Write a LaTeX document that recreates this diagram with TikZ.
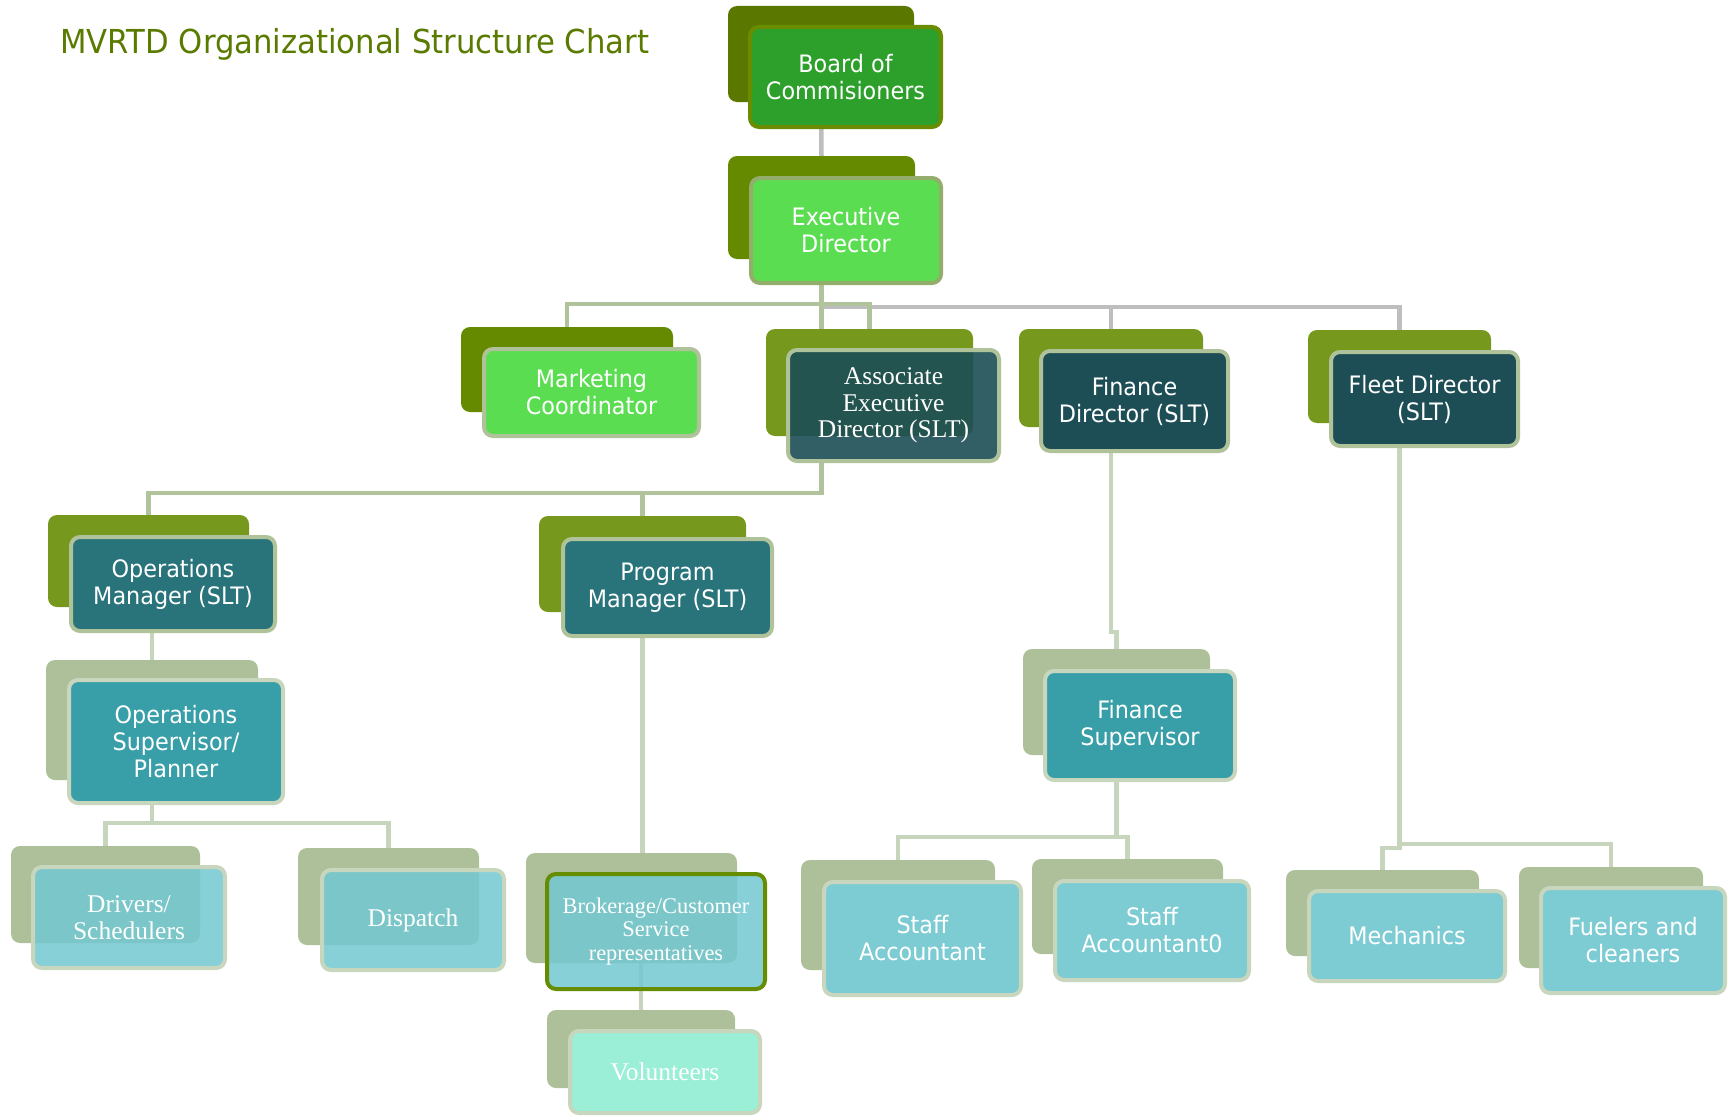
\documentclass[tikz,border=0pt]{standalone}
\usepackage{fontspec}
\setmainfont{DejaVu Sans}[FakeStretch=0.93]
\newfontfamily\seriff{Liberation Serif}
\usetikzlibrary{backgrounds}
\definecolor{cOliveDark}{HTML}{5A7800}
\definecolor{cOlive}{HTML}{658A00}
\definecolor{cOliveL}{HTML}{76981C}
\definecolor{cSageB}{HTML}{ADC09A}
\definecolor{cGreenD}{HTML}{2CA02A}
\definecolor{cGreenL}{HTML}{5BDD52}
\definecolor{cTealA}{HTML}{1C4D55}
\definecolor{cTealD}{HTML}{1D4E55}
\definecolor{cTealM}{HTML}{29737B}
\definecolor{cTealS}{HTML}{389EA8}
\definecolor{cTealL}{HTML}{7DCBD3}
\definecolor{cTealT}{HTML}{73C8D1}
\definecolor{cMint}{HTML}{9AEFD6}
\definecolor{cBorderOl}{HTML}{6A8C00}
\definecolor{cBorderEx}{HTML}{93AD6B}
\definecolor{cBorderSg}{HTML}{AFC29A}
\definecolor{cBorderLt}{HTML}{C9D6BE}
\definecolor{cBrokBorder}{HTML}{668C00}
\definecolor{cLineSg}{HTML}{B1C39B}
\definecolor{cLineLt}{HTML}{C8D5BD}
\definecolor{cLineGr}{HTML}{BEBEBE}
\definecolor{cTitle}{HTML}{5A7A00}
\newcommand\sansbox{\fontsize{24}{27}\selectfont}
\newcommand\serifbox{\seriff\fontsize{25.5}{26.5}\selectfont}
\newcommand\serifsmall{\seriff\fontsize{22.4}{23.2}\selectfont}
\newcommand\backbox[6]{\node[#2, minimum width={(#5-#3)*1pt}, minimum height={(#6-#4)*1pt}] (#1) at ({(#3+#5)/2},{(#4+#6)/2}) {};}
\newcommand\frontbox[7]{\node[#2, minimum width={(#5-#3-4)*1pt}, minimum height={(#6-#4-4)*1pt}] (#1) at ({(#3+#5)/2},{(#4+#6)/2}) {#7};}
\tikzset{
  bk/.style={fill=#1, rounded corners=9pt, inner sep=0pt, outer sep=0pt},
  fr/.style={draw=#1, line width=4pt, rounded corners=9pt, inner sep=0pt, outer sep=0pt, text=white, align=center, font=\sansbox},
  cs/.style={draw=cLineSg, line width=4.5pt},
  cl/.style={draw=cLineLt, line width=4.5pt},
  cg/.style={draw=cLineGr, line width=4.5pt},
}
\begin{document}
\begin{tikzpicture}[x=1pt,y=-1pt]
\useasboundingbox (0,0) rectangle (1729,1116);
\node[anchor=base west, text=cTitle, font=\fontsize{33}{36}\selectfont, inner sep=0pt] (title) at (60,54) {MVRTD Organizational Structure Chart};

\backbox{boardB}{bk=cOliveDark}{728}{6}{914}{102}
\frontbox{board}{fr=cBorderOl, fill=cGreenD}{748}{25}{943}{129}{Board of\\Commisioners}
\backbox{execB}{bk=cOlive}{728}{156}{915}{259}
\frontbox{exec}{fr=cBorderEx, fill=cGreenL}{749}{176}{943}{285}{Executive\\Director}
\backbox{mktB}{bk=cOlive}{461}{327}{673}{412}
\frontbox{mkt}{fr=cBorderSg, fill=cGreenL}{482}{347}{701}{438}{Marketing\\Coordinator}
\backbox{aedB}{bk=cOliveL}{766}{329}{973}{436}
\frontbox{aed}{fr=cBorderSg, fill=cTealA, fill opacity=0.9, text opacity=1, font=\serifbox}{786}{348}{1001}{463}{Associate\\Executive\\Director (SLT)}
\backbox{finB}{bk=cOliveL}{1019}{329}{1203}{427}
\frontbox{fin}{fr=cBorderSg, fill=cTealD}{1039}{349}{1230}{453}{Finance\\Director (SLT)}
\backbox{fleetB}{bk=cOliveL}{1308}{330}{1491}{423}
\frontbox{fleet}{fr=cBorderSg, fill=cTealD}{1329}{350}{1520}{448}{Fleet Director\\(SLT)}
\backbox{opsmB}{bk=cOliveL}{48}{515}{249}{607}
\frontbox{opsm}{fr=cBorderSg, fill=cTealM}{69}{535}{277}{633}{Operations\\Manager (SLT)}
\backbox{progB}{bk=cOliveL}{539}{516}{746}{612}
\frontbox{prog}{fr=cBorderSg, fill=cTealM}{561}{537}{774}{638}{Program\\Manager (SLT)}
\backbox{opssB}{bk=cSageB}{46}{660}{258}{780}
\frontbox{opss}{fr=cBorderLt, fill=cTealS}{67}{678}{285}{805}{Operations\\Supervisor/\\Planner}
\backbox{finsupB}{bk=cSageB}{1023}{649}{1210}{755}
\frontbox{finsup}{fr=cBorderLt, fill=cTealS}{1043}{669}{1237}{782}{Finance\\Supervisor}
\backbox{drvB}{bk=cSageB}{11}{846}{200}{943}
\frontbox{drv}{fr=cBorderLt, fill=cTealT, fill opacity=0.85, text opacity=1, font=\serifbox}{31}{865}{227}{970}{Drivers/\\Schedulers}
\backbox{dispB}{bk=cSageB}{298}{848}{479}{945}
\frontbox{disp}{fr=cBorderLt, fill=cTealT, fill opacity=0.85, text opacity=1, font=\serifbox}{320}{868}{506}{972}{Dispatch}
\backbox{brokB}{bk=cSageB}{526}{853}{737}{963}
\frontbox{brok}{fr=cBrokBorder, fill=cTealT, fill opacity=0.85, text opacity=1, font=\serifsmall}{545}{872}{767}{991}{Brokerage/Customer\\Service\\representatives}
\backbox{volB}{bk=cSageB}{547}{1010}{735}{1088}
\frontbox{vol}{fr=cBorderLt, fill=cMint, font=\serifbox}{568}{1029}{762}{1115}{Volunteers}
\backbox{staffB}{bk=cSageB}{801}{860}{995}{970}
\frontbox{staff}{fr=cBorderLt, fill=cTealL}{822}{880}{1023}{997}{Staff\\Accountant}
\backbox{staffzB}{bk=cSageB}{1032}{859}{1223}{954}
\frontbox{staffz}{fr=cBorderLt, fill=cTealL}{1053}{879}{1251}{982}{Staff\\Accountant0}
\backbox{mechB}{bk=cSageB}{1286}{870}{1479}{956}
\frontbox{mech}{fr=cBorderLt, fill=cTealL}{1307}{889}{1507}{983}{Mechanics}
\backbox{fuelB}{bk=cSageB}{1519}{867}{1703}{968}
\frontbox{fuel}{fr=cBorderLt, fill=cTealL}{1539}{886}{1727}{995}{Fuelers and\\cleaners}

\begin{pgfonlayer}{background}
\coordinate (busA) at (0,304);
\coordinate (busG) at (0,307);
\coordinate (busB) at (0,493);
\coordinate (busC) at (0,823);
\coordinate (jogF) at (0,632);
\coordinate (busD) at (0,837);
\coordinate (busE) at (0,848);
\coordinate (busF) at (0,844);
\draw[cg] (boardB.south) -- (execB.north);
\draw[cg] (execB.south |- busG) -- (fleetB.north |- busG) -- (fleetB.north);
\draw[cg] (finB.north |- busG) -- (finB.north);
\draw[cs] (mktB.north) -- (mktB.north |- busA) -- (aedB.north |- busA) -- (aedB.north);
\draw[cs] (execB.south) -- (execB.south |- aedB.north);
\draw[cs] (opsmB.north) -- (opsmB.north |- busB) -- (execB.south |- busB) -- (execB.south |- aed.south);
\draw[cs] (progB.north |- busB) -- (progB.north);
\draw[cl] (opssB.north |- opsm.south) -- (opssB.north);
\draw[cl] (opssB.north |- opss.south) -- (opssB.north |- busC);
\draw[cl] (drvB.north) -- (drvB.north |- busC) -- (dispB.north |- busC) -- (dispB.north);
\draw[cl] (progB.south) -- (progB.south |- brokB.north);
\draw[cl] (volB.north |- brokB.south) -- (volB.north);
\draw[cl] (finB.south) -- (finB.south |- jogF) -- (finsupB.north |- jogF) -- (finsupB.north);
\draw[cl] (finsupB.south) -- (finsupB.south |- busD);
\draw[cl] (staffB.north) -- (staffB.north |- busD) -- (staffzB.north |- busD) -- (staffzB.north);
\draw[cl] (fleetB.south) -- (fleetB.south |- busE) -- (mechB.north |- busE) -- (mechB.north);
\draw[cl] (fleetB.south |- busF) -- (fuelB.north |- busF) -- (fuelB.north);
\end{pgfonlayer}
\end{tikzpicture}
\end{document}
